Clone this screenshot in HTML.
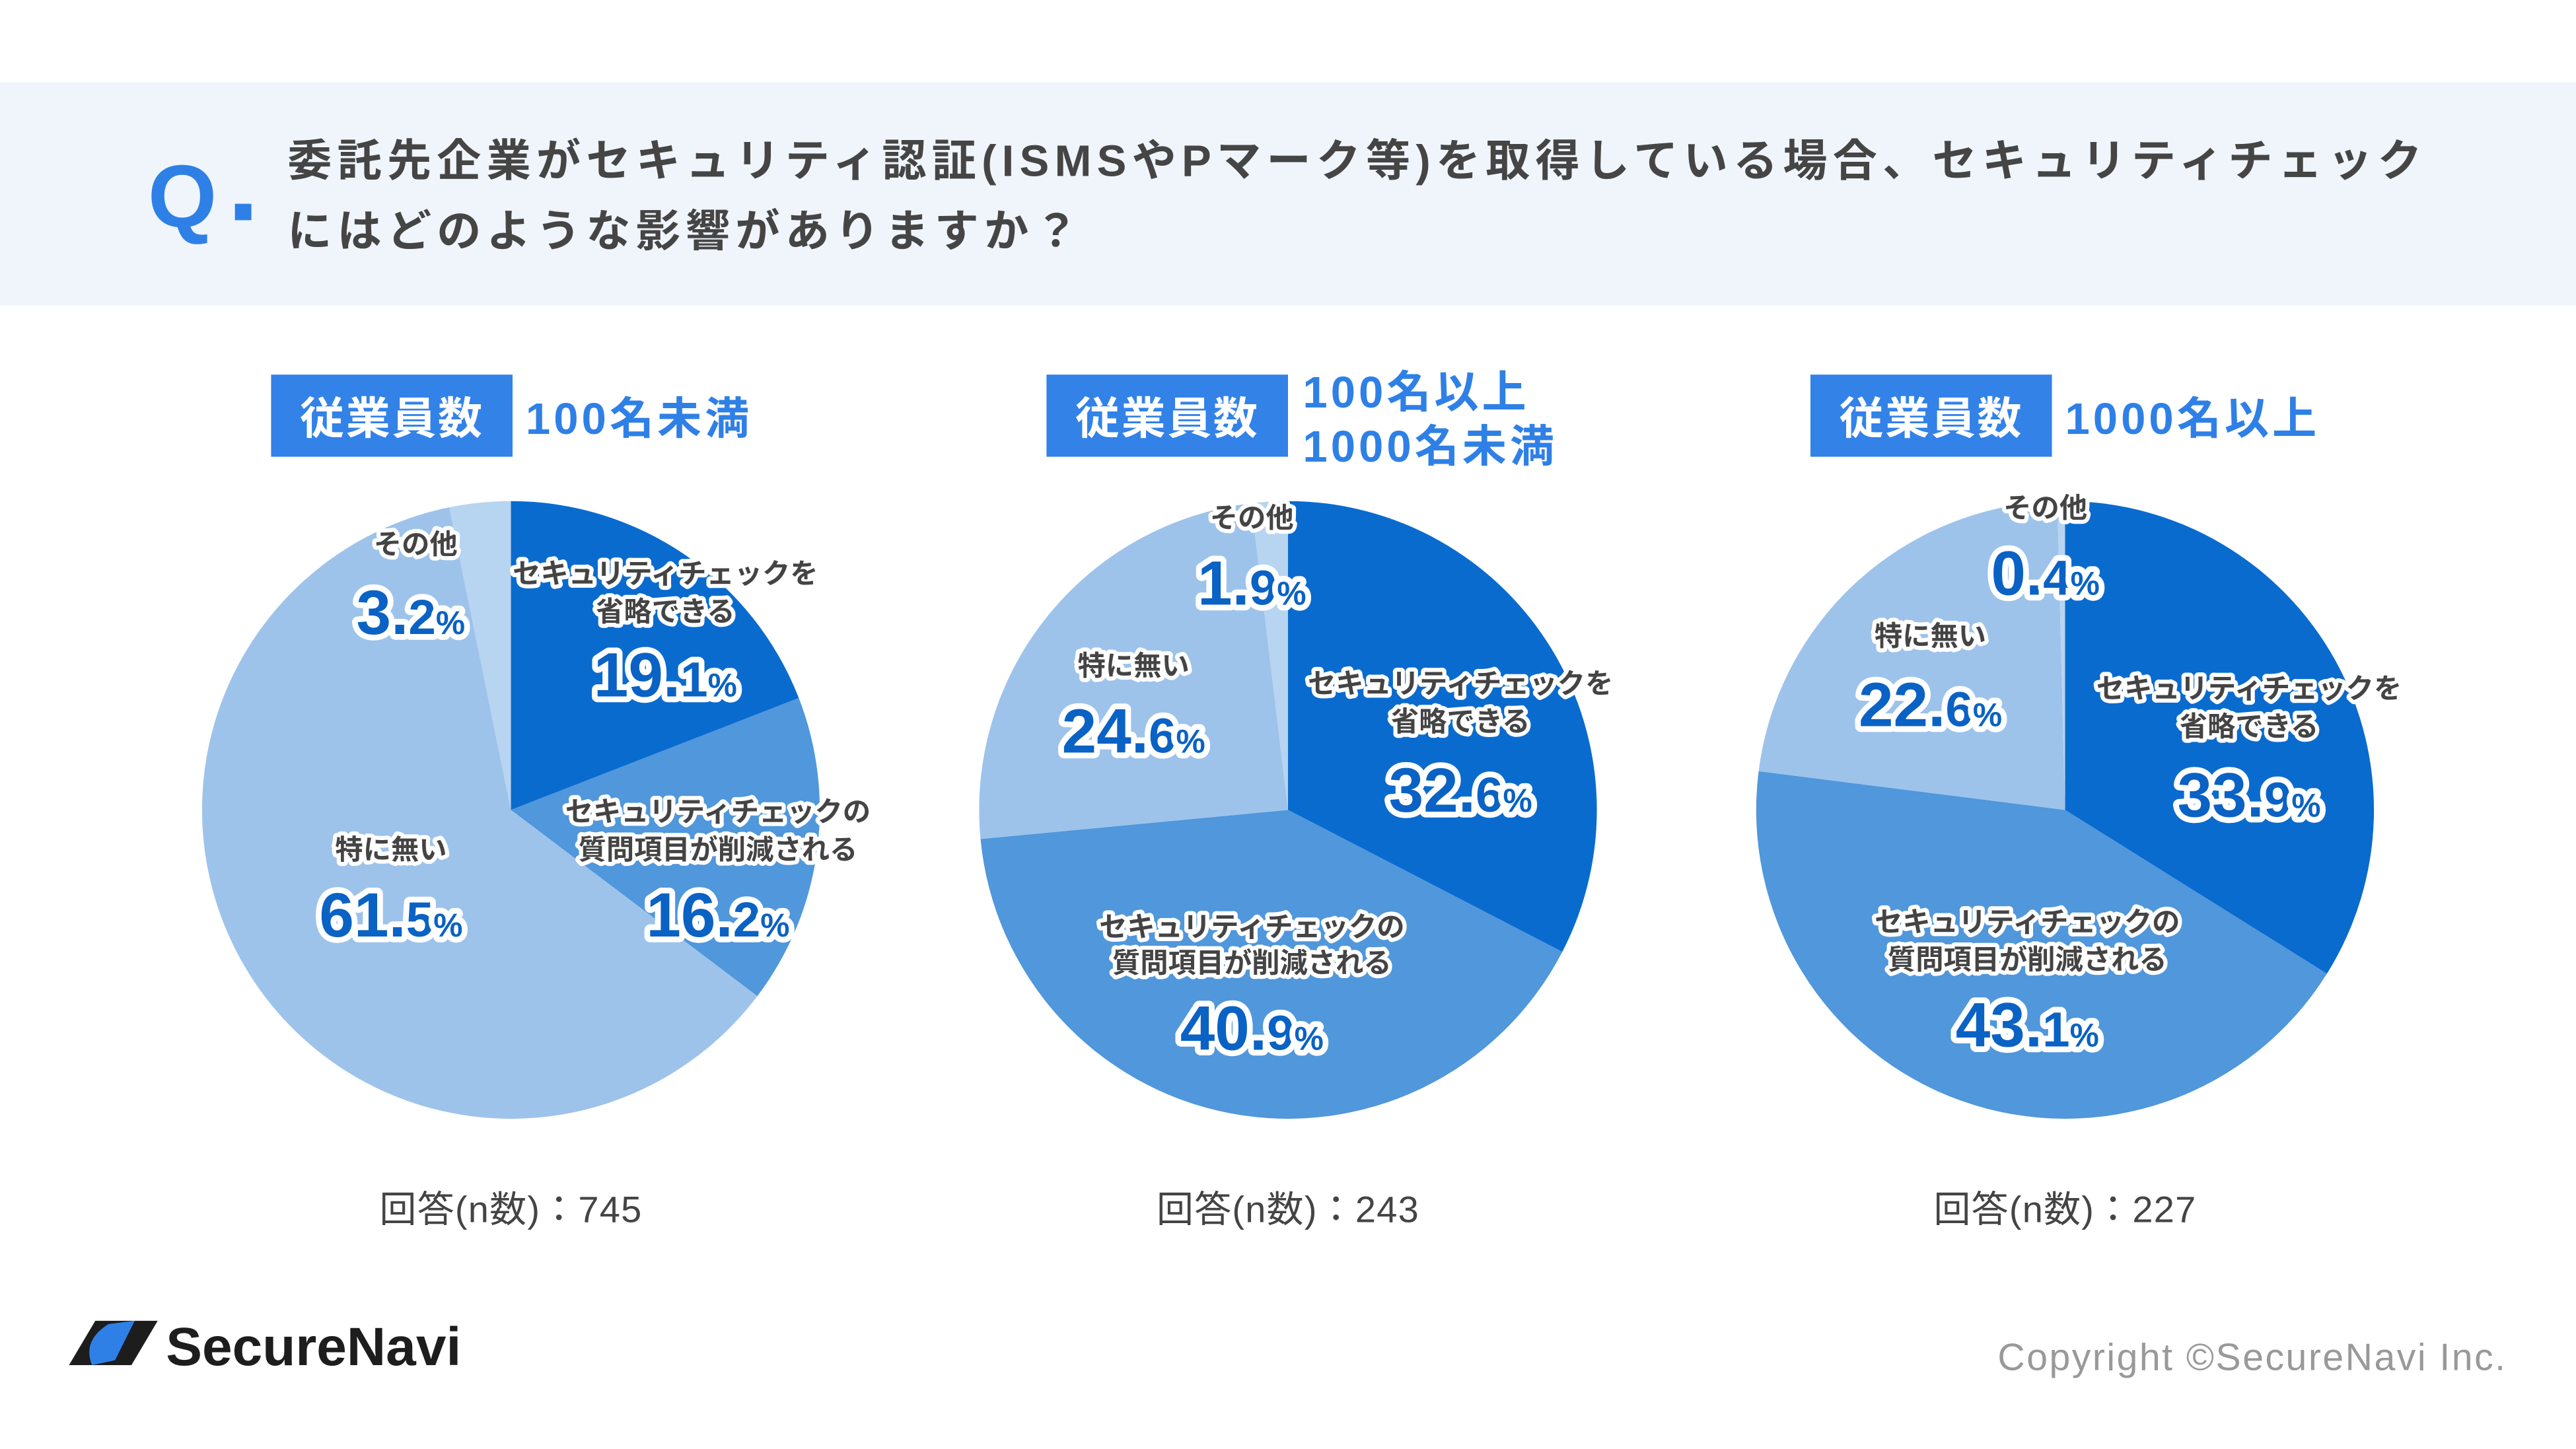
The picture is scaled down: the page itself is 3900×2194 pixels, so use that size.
<!DOCTYPE html>
<html><head><meta charset="utf-8"><style>
html,body{margin:0;padding:0;background:#fff}
svg{display:block}
text{font-family:"Liberation Sans","Noto Sans CJK JP",sans-serif}
.lbl{font-size:17px;font-weight:700;fill:#444;stroke:#fff;stroke-width:5px;paint-order:stroke;stroke-linejoin:round}
.pct{font-size:38px;font-weight:900;fill:#0a62c4;stroke:#fff;stroke-width:7px;paint-order:stroke;stroke-linejoin:round}
.pcs{font-size:20px}
</style></head><body>
<svg id="c" width="3900" height="2194" viewBox="0 0 1568 882" xmlns="http://www.w3.org/2000/svg">
<rect x="0" y="50" width="1568" height="136" fill="#eff5fb"/>
<text x="90" y="138" font-size="54" font-weight="900" fill="#2f80e6">Q</text>
<rect x="143" y="124" width="10" height="10" fill="#2f80e6"/>
<text x="175" y="107" font-size="27" font-weight="700" fill="#454545" letter-spacing="3.3">委託先企業がセキュリティ認証(ISMSやPマーク等)を取得している場合、セキュリティチェック</text>
<text x="175" y="150" font-size="27" font-weight="700" fill="#454545" letter-spacing="3.3">にはどのような影響がありますか？</text>
<g id="pies"></g>
<g>
<path d="M42 831 L58 804 L96 804 L80 831 Z" fill="#1d1d1d"/>
<path d="M56 831 Q50 816 66 806 L82 804 L70 828 Z" fill="#2f80e6"/>
<text x="101" y="831" font-size="33" font-weight="700" fill="#1d1d1d">SecureNavi</text>
</g>
<text x="1526" y="834" text-anchor="end" font-size="23" letter-spacing="1" fill="#999">Copyright ©SecureNavi Inc.</text>
</svg>
<script>
const groups = ["100名未満","100名以上1000名未満","1000名以上"];
const nCounts = [745, 243, 227];
const skipVals = [19.1, 32.6, 33.9];
const reduceVals = [16.2, 40.9, 43.1];
const noneVals = [61.5, 24.6, 22.6];
const otherVals = [3.2, 1.9, 0.4];
const colors = ["#0a6bcf","#5097dc","#9dc3eb","#b7d4f0"];
const NS="http://www.w3.org/2000/svg";
const root=document.getElementById('pies');
const centers=[311,784,1257], CY=493, R=188;
function mk(tag,attrs,parent){const e=document.createElementNS(NS,tag);for(const k in attrs)e.setAttribute(k,attrs[k]);parent.appendChild(e);return e;}
function txt(parent,x,y,s,cls,name){const t=mk('text',{x:x,y:y,'text-anchor':'middle',class:cls},parent);t.textContent=s;

return t;}
function pctText(parent,x,y,v,name){const t=mk('text',{x:x,y:y,'text-anchor':'middle',class:'pct'},parent);
const parts=v.toFixed(1).split('.');
const a=document.createElementNS(NS,'tspan');a.textContent=parts[0]+'.';t.appendChild(a);
const b=document.createElementNS(NS,'tspan');b.textContent=parts[1];b.setAttribute('font-size','30');t.appendChild(b);
const c=document.createElementNS(NS,'tspan');c.textContent='%';c.setAttribute('class','pcs');c.setAttribute('font-weight','700');t.appendChild(c);

}
const pt=(cx,a,r)=>[cx+r*Math.sin(a),CY-r*Math.cos(a)];
centers.forEach((cx,i)=>{
  const g=mk('g',{},root);
  
  
  const vals=[skipVals[i],reduceVals[i],noneVals[i],otherVals[i]];
  const tot=vals.reduce((a,b)=>a+b,0);
  let a0=0;
  vals.forEach((v,k)=>{
    const a1=a0+v/tot*2*Math.PI;
    const p0=pt(cx,a0,R),p1=pt(cx,a1,R);
    const s=mk('path',{d:`M${cx},${CY} L${p0[0]},${p0[1]} A${R},${R} 0 ${a1-a0>Math.PI?1:0} 1 ${p1[0]},${p1[1]} Z`,fill:colors[k]},g);
    
    
    a0=a1;
  });
  const bx=[165,637,1102][i];
  const hb=mk('rect',{x:bx,y:228,width:147,height:50,fill:'#3282e8'},g);
  
  
  const ht=mk('text',{x:bx+73.5,y:264,'text-anchor':'middle','font-size':27,'font-weight':700,fill:'#fff','letter-spacing':1},g);ht.textContent='従業員数';
  
  
  if(i===1){
    [['100名以上',248],['1000名未満',281]].forEach(([s,y])=>{const t=mk('text',{x:793,y:y,'font-size':27,'font-weight':700,fill:'#2f80e6','letter-spacing':2},g);t.textContent=s;
    
    });
  } else {
    const t=mk('text',{x:bx+155,y:264,'font-size':27,'font-weight':700,fill:'#2f80e6','letter-spacing':2},g);t.textContent=groups[i];
    
    
  }
  const nt=mk('text',{x:cx,y:744,'text-anchor':'middle','font-size':22.5,fill:'#444','letter-spacing':0.5},g);nt.textContent='回答(n数)：'+nCounts[i];
  
  
  const L=[
   [[[405,355],[405,378]],[405,424]],
   [[[889,422],[889,445]],[889,494]],
   [[[1369,425],[1369,448]],[1369,497]]][i];
  txt(g,L[0][0][0],L[0][0][1],'セキュリティチェックを','lbl','skip-label');
  txt(g,L[0][1][0],L[0][1][1],'省略できる','lbl','skip-label');
  pctText(g,L[1][0],L[1][1],skipVals[i],'skip-value');
  const Rd=[[[437,500],[437,523],[437,570]],[[762,570],[762,592],[762,639]],[[1234,567],[1234,590],[1234,637]]][i];
  txt(g,Rd[0][0],Rd[0][1],'セキュリティチェックの','lbl','reduce-label');
  txt(g,Rd[1][0],Rd[1][1],'質問項目が削減される','lbl','reduce-label');
  pctText(g,Rd[2][0],Rd[2][1],reduceVals[i],'reduce-value');
  const Nn=[[[238,523],[238,570]],[[690,411],[690,458]],[[1175,393],[1175,442]]][i];
  txt(g,Nn[0][0],Nn[0][1],'特に無い','lbl','none-label');
  pctText(g,Nn[1][0],Nn[1][1],noneVals[i],'none-value');
  const O=[[[253,337],[250,386]],[[762,321],[762,368]],[[1245,315],[1245,362]]][i];
  txt(g,O[0][0],O[0][1],'その他','lbl','other-label');
  pctText(g,O[1][0],O[1][1],otherVals[i],'other-value');
});
</script>
</body></html>
